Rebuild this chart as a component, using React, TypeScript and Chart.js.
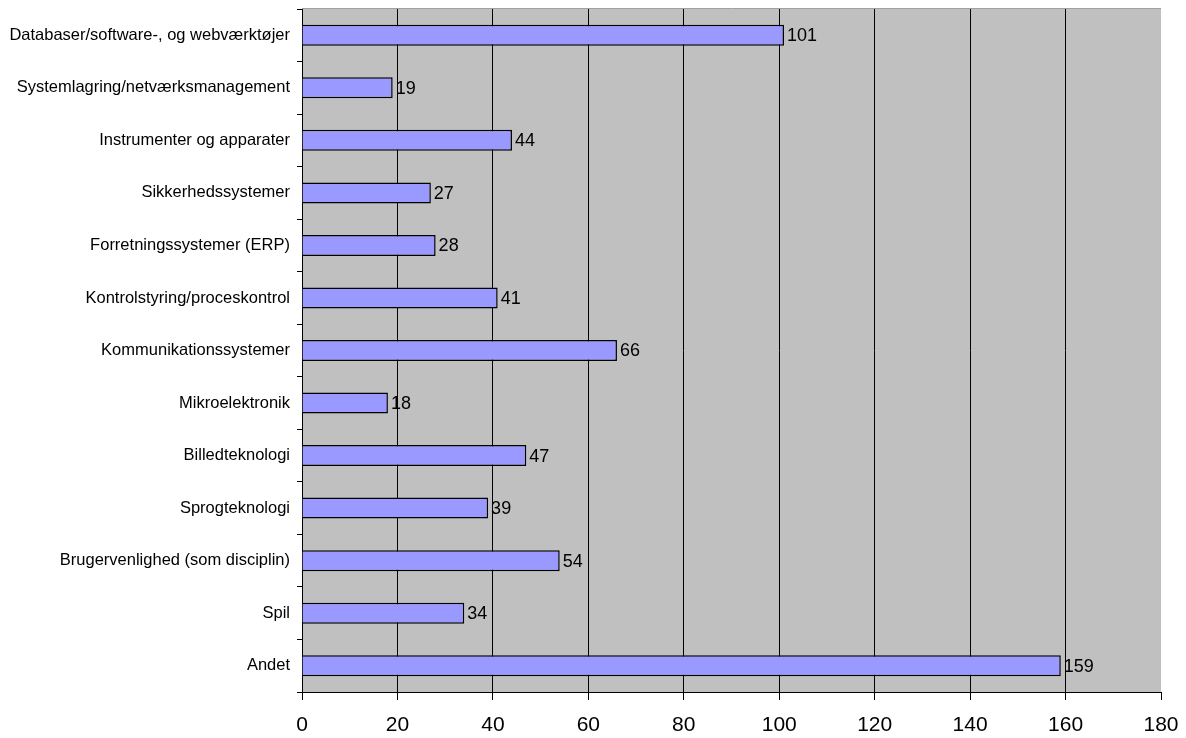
import React, { useEffect, useRef } from "react";
import { Chart, registerables } from "chart.js";

Chart.register(...registerables);

const categories = [
  "Databaser/software-, og webværktøjer",
  "Systemlagring/netværksmanagement",
  "Instrumenter og apparater",
  "Sikkerhedssystemer",
  "Forretningssystemer (ERP)",
  "Kontrolstyring/proceskontrol",
  "Kommunikationssystemer",
  "Mikroelektronik",
  "Billedteknologi",
  "Sprogteknologi",
  "Brugervenlighed (som disciplin)",
  "Spil",
  "Andet",
];
const values = [101, 19, 44, 27, 28, 41, 66, 18, 47, 39, 54, 34, 159];
const xMin = 0;
const xMax = 180;
const xStep = 20;

const FONT = "'Liberation Sans', Arial, sans-serif";

const plotBg = {
  id: "plotBg",
  beforeDraw(chart: any) {
    const { ctx, chartArea } = chart;
    ctx.save();
    ctx.fillStyle = "#C0C0C0";
    ctx.fillRect(chartArea.left, chartArea.top, chartArea.right - chartArea.left, chartArea.bottom - chartArea.top);
    ctx.strokeStyle = "#A0A0A0";
    ctx.lineWidth = 1;
    ctx.beginPath();
    ctx.moveTo(chartArea.left, chartArea.top - 0.5);
    ctx.lineTo(chartArea.right, chartArea.top - 0.5);
    ctx.stroke();
    ctx.restore();
  },
};

const valueLabels = {
  id: "valueLabels",
  afterDatasetsDraw(chart: any) {
    const { ctx } = chart;
    const meta = chart.getDatasetMeta(0);
    ctx.save();
    ctx.font = `18px ${FONT}`;
    ctx.fillStyle = "#000";
    ctx.textAlign = "left";
    ctx.textBaseline = "middle";
    meta.data.forEach((bar: any, i: number) => {
      ctx.fillText(String(values[i]), bar.x + 3, bar.y + 1);
    });
    ctx.restore();
  },
};

export default function App() {
  const ref = useRef<HTMLCanvasElement>(null);
  useEffect(() => {
    document.body.style.margin = "0";
    const chart = new Chart(ref.current!, {
      type: "bar",
      data: {
        labels: categories,
        datasets: [
          {
            data: values,
            backgroundColor: "#9999FF",
            borderColor: "#000000",
            borderWidth: 1.5,
            barPercentage: 0.4,
            categoryPercentage: 1,
          },
        ],
      },
      plugins: [plotBg, valueLabels],
      options: {
        indexAxis: "y",
        animation: false,
        responsive: false,
        layout: { padding: { top: 9, right: 25, left: 0, bottom: 0 } },
        plugins: { legend: { display: false }, tooltip: { enabled: false } },
        scales: {
          x: {
            min: xMin,
            max: xMax,
            ticks: { stepSize: xStep, color: "#000", font: { family: FONT, size: 21 }, padding: 13 },
            grid: {
              color: (c: any) => (c.tick && c.tick.value === xMax ? "rgba(0,0,0,0)" : "#000"),
              tickColor: "#000",
              tickLength: 8,
              lineWidth: 1,
            },
            border: { color: "#000", width: 1 },
            afterFit: (s: any) => {
              s.height = 46;
              s.paddingLeft = 0;
              s.paddingRight = 0;
            },
          },
          y: {
            ticks: { color: "#000", font: { family: FONT, size: 16.5 }, padding: 7 },
            grid: { drawOnChartArea: false, drawTicks: true, tickLength: 5, color: "#000", offset: true },
            border: { color: "#000", width: 1 },
            afterFit: (s: any) => {
              s.width = 302;
              s.paddingTop = 0;
              s.paddingBottom = 0;
            },
          },
        },
      },
    });
    return () => chart.destroy();
  }, []);
  return (
    <div style={{ position: "absolute", left: 0, top: 0, width: 1186, height: 738, background: "#fff" }}>
      <canvas ref={ref} width={1186} height={738} />
    </div>
  );
}
